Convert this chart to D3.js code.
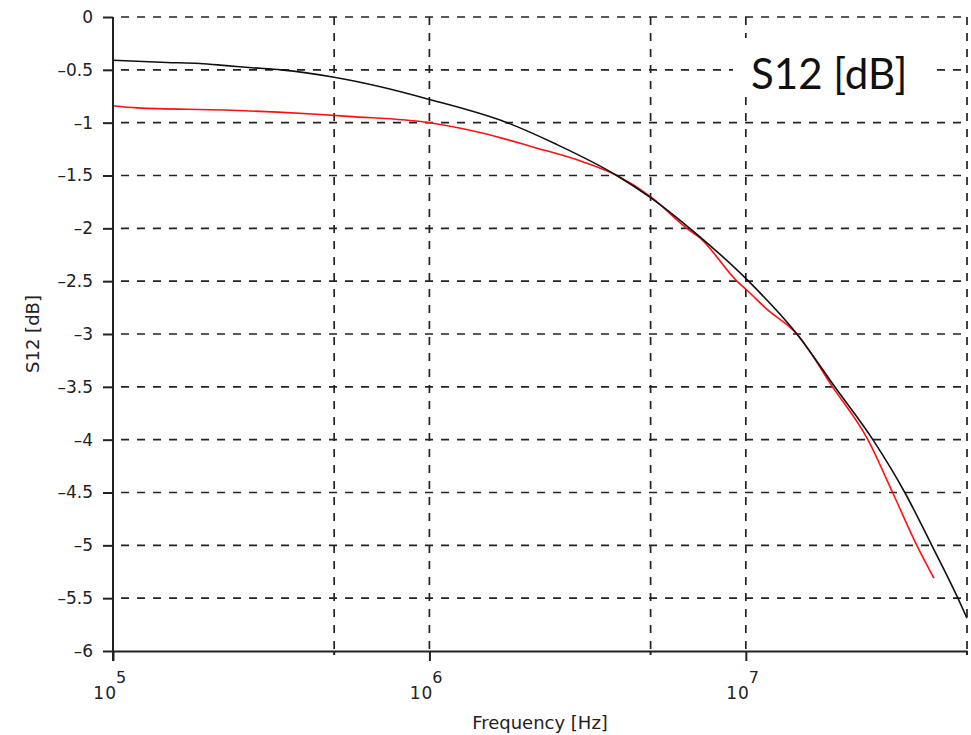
<!DOCTYPE html>
<html>
<head>
<meta charset="utf-8">
<script src="https://cdn.jsdelivr.net/npm/d3@7"></script>
<style>
  body { margin: 0; background: #fff; }
  svg { display: block; }
</style>
</head>
<body>
<div id="chart"></div>
<script>
// x ticks (Hz) and y ticks (dB)
const xMajorTicks = [1e5, 1e6, 1e7];
const xMinorTicks = [5e5, 5e6, 5e7];
const xGrid = [5e5, 1e6, 5e6, 1e7, 5e7];
const yTicks = [0, -0.5, -1, -1.5, -2, -2.5, -3, -3.5, -4, -4.5, -5, -5.5, -6];

// black curve
const blackFreq = [1e5, 1.48e5, 1.88e5, 2.28e5, 2.75e5, 3.4e5, 5e5, 7e5, 1e6,
  1.76e6, 2.5e6, 3.91e6, 5e6, 6.65e6, 1.02e7, 1.45e7, 1.91e7, 2.52e7, 3.18e7, 3.87e7, 4.68e7, 5e7];
const blackDb = [-0.41, -0.43, -0.44, -0.46, -0.48, -0.50, -0.57, -0.66, -0.78,
  -1.00, -1.20, -1.50, -1.71, -2.00, -2.50, -3.00, -3.50, -4.00, -4.50, -5.00, -5.50, -5.69];

// red curve
const redFreq = [1e5, 1.19e5, 2.26e5, 3.32e5, 4.41e5, 5.53e5, 1e6, 1.48e6, 2.12e6, 3.05e6,
  3.91e6, 5e6, 6.51e6, 7.16e6, 9.37e6, 1.02e7, 1.16e7, 1.45e7, 1.88e7, 2.43e7, 2.91e7, 3.47e7, 3.93e7];
const redDb = [-0.84, -0.86, -0.88, -0.90, -0.92, -0.94, -1.00, -1.10, -1.23, -1.37,
  -1.50, -1.70, -2.00, -2.09, -2.50, -2.60, -2.76, -3.00, -3.50, -4.00, -4.50, -5.00, -5.31];

const W = 971, H = 735;
const margin = { top: 17, right: 4, bottom: 84, left: 113 };
const width = W - margin.left - margin.right,
  height = H - margin.top - margin.bottom;

const svg = d3.select('#chart')
  .append('svg')
  .attr('width', W)
  .attr('height', H);

const g = svg.append('g')
  .attr('transform', 'translate(' + margin.left + ',' + margin.top + ')');

const x = d3.scaleLog().domain([1e5, 5e7]).range([0, width]);
const y = d3.scaleLinear().domain([-6, 0]).range([height, 0]);

const tickFont = 'DejaVu Sans';

// grid
g.append('g')
  .selectAll('line')
  .data(xGrid)
  .join('line')
  .attr('x1', d => x(d)).attr('x2', d => x(d))
  .attr('y1', 0).attr('y2', height)
  .attr('stroke', '#222')
  .attr('stroke-width', 1.7)
  .attr('stroke-dasharray', '8,8');

g.append('g')
  .selectAll('line')
  .data(yTicks.filter(d => d > -6))
  .join('line')
  .attr('x1', 0).attr('x2', width)
  .attr('y1', d => y(d)).attr('y2', d => y(d))
  .attr('stroke', '#222')
  .attr('stroke-width', 1.7)
  .attr('stroke-dasharray', '8,8')
  .attr('stroke-dashoffset', 8);

// curves
const line = d3.line()
  .x(d => x(d[0]))
  .y(d => y(d[1]))
  .curve(d3.curveMonotoneX);

g.append('path')
  .datum(redFreq.map((f, i) => [f, redDb[i]]))
  .attr('fill', 'none')
  .attr('stroke', '#ff1010')
  .attr('stroke-width', 1.6)
  .attr('d', line);

g.append('path')
  .datum(blackFreq.map((f, i) => [f, blackDb[i]]))
  .attr('fill', 'none')
  .attr('stroke', '#111')
  .attr('stroke-width', 1.6)
  .attr('d', line);

// X axis
const xAxis = g.append('g')
  .attr('transform', `translate(0, ${height})`)
  .call(d3.axisBottom(x).tickValues(xMajorTicks).tickSize(10).tickSizeOuter(0).tickFormat(''));
xAxis.select('.domain').attr('stroke', '#222').attr('stroke-width', 2);
xAxis.selectAll('.tick line').attr('stroke', '#222').attr('stroke-width', 2);

xAxis.selectAll('.minor')
  .data(xMinorTicks)
  .join('line')
  .attr('class', 'minor')
  .attr('x1', d => x(d)).attr('x2', d => x(d))
  .attr('y1', 0).attr('y2', 4)
  .attr('stroke', '#222')
  .attr('stroke-width', 2);

const xLab = xAxis.selectAll('.xlab')
  .data(xMajorTicks)
  .join('g')
  .attr('class', 'xlab')
  .attr('transform', d => `translate(${x(d)},0)`);
xLab.append('text')
  .attr('x', 4).attr('y', 48)
  .attr('text-anchor', 'end')
  .style('font-family', tickFont)
  .style('font-size', '17px')
  .style('letter-spacing', '1px')
  .attr('fill', '#222')
  .text('10');
xLab.append('text')
  .attr('x', 8).attr('y', 32)
  .style('font-family', tickFont)
  .style('font-size', '16px')
  .attr('fill', '#222')
  .text(d => Math.round(Math.log10(d)));

// Y axis
const yAxis = g.append('g')
  .call(d3.axisLeft(y).tickValues(yTicks).tickSize(10).tickSizeOuter(0)
    .tickFormat(d => d === 0 ? '0' : String(d).replace('-', '\u2013')));
yAxis.select('.domain').attr('stroke', '#222').attr('stroke-width', 2)
  .attr('d', `M0,0V${height + 10}`);
yAxis.selectAll('.tick line').attr('stroke', '#222').attr('stroke-width', 2);
yAxis.selectAll('.tick text')
  .attr('x', -20)
  .style('font-family', tickFont)
  .style('font-size', '17px')
  .attr('fill', '#222');

// X label
g.append('text')
  .attr('x', width / 2)
  .attr('y', height + 78)
  .attr('text-anchor', 'middle')
  .style('font-family', tickFont)
  .style('font-size', '18px')
  .attr('fill', '#222')
  .text('Frequency [Hz]');

// Y label
g.append('text')
  .attr('text-anchor', 'middle')
  .attr('transform', 'translate(-74,' + height / 2 + ')rotate(-90)')
  .style('font-family', tickFont)
  .style('font-size', '18px')
  .attr('fill', '#222')
  .text('S12 [dB]');

// title box
g.append('rect')
  .attr('x', 620).attr('y', 21)
  .attr('width', 203).attr('height', 59)
  .attr('fill', '#fff');
g.append('text')
  .attr('x', 638).attr('y', 72)
  .style('font-family', 'Lato')
  .style('font-size', '42px')
  .attr('fill', '#111')
  .text('S12 [dB]');
</script>
</body>
</html>
